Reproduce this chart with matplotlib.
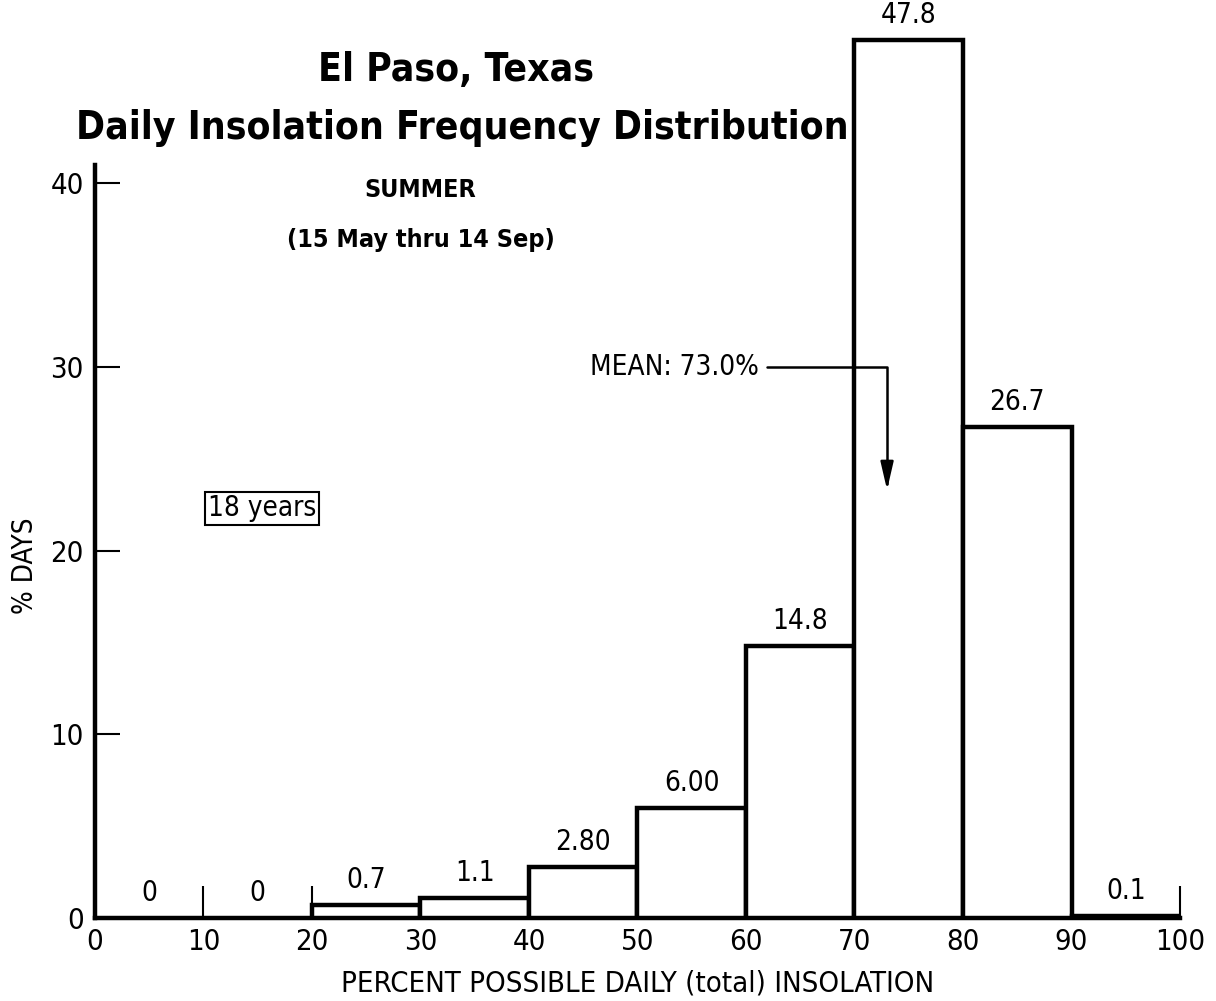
import matplotlib
matplotlib.use("Agg")
import matplotlib.pyplot as plt

# bins of percent possible daily insolation and % of days in each
bin_left = [0, 10, 20, 30, 40, 50, 60, 70, 80, 90]
pct_days = [0, 0, 0.7, 1.1, 2.80, 6.00, 14.8, 47.8, 26.7, 0.1]
bar_labels = ["0", "0", "0.7", "1.1", "2.80", "6.00", "14.8", "47.8", "26.7", "0.1"]
mean_value = 73.0

plt.rcParams["font.family"] = ["DejaVu Sans"]
plt.rcParams["font.stretch"] = "condensed"

fig = plt.figure(figsize=(12.16, 10.01), dpi=100)
ax = fig.add_axes([0.0781, 0.0829, 0.8923, 0.881])

# the histogram bars, drawn as outlines
for x, h in zip(bin_left, pct_days):
    if h > 0:
        ax.bar(x, h, width=10, align="edge", facecolor="white",
               edgecolor="black", linewidth=3.2, zorder=3)

for x, h, lab in zip(bin_left, pct_days, bar_labels):
    ax.text(x + 5, h + 0.6, lab, ha="center", va="bottom", fontsize=20, clip_on=False)

ax.set_xlim(0, 100)
ax.set_ylim(0, 48)
ax.set_xticks(range(0, 101, 10))
ax.set_yticks([0, 10, 20, 30, 40])
ax.tick_params(axis="x", length=0, labelsize=21, pad=7)
ax.tick_params(axis="y", direction="in", length=18, width=1.5, labelsize=21, pad=8)
ax.xaxis.remove_overlapping_locs = False
ax.set_xticks([10, 20, 100], minor=True)
ax.tick_params(axis="x", which="minor", direction="in", length=23, width=1.5)

for s in ["top", "right"]:
    ax.spines[s].set_visible(False)
ax.spines["left"].set_linewidth(3.2)
ax.spines["bottom"].set_linewidth(3.2)
ax.spines["left"].set_bounds(0, 41)
ax.spines["left"].set_zorder(4)

ax.set_xlabel("PERCENT POSSIBLE DAILY (total) INSOLATION", fontsize=21, labelpad=10)
ax.set_ylabel("% DAYS", fontsize=20)
ax.yaxis.set_label_coords(-0.052, 0.40)

# mean marker
ax.annotate(f"MEAN: {mean_value:.1f}%", xy=(mean_value, 23.3), xytext=(61.2, 30),
            ha="right", va="center", fontsize=20,
            arrowprops=dict(arrowstyle="-|>,head_length=1.3,head_width=0.3", color="black",
                            lw=1.8, shrinkA=4, shrinkB=0, mutation_scale=13,
                            connectionstyle="angle,angleA=0,angleB=90,rad=0"),
            zorder=5)

ax.text(15.4, 22.3, "18 years", ha="center", va="center", fontsize=20,
        bbox=dict(boxstyle="square,pad=0.1", facecolor="white", edgecolor="black", lw=1.5))

fig.text(0.375, 0.930, "El Paso, Texas", ha="center", va="center",
         fontsize=28, fontweight="bold")
fig.text(0.380, 0.872, "Daily Insolation Frequency Distribution", ha="center", va="center",
         fontsize=28, fontweight="bold")
fig.text(0.346, 0.810, "SUMMER", ha="center", va="center", fontsize=18, fontweight="bold")
fig.text(0.346, 0.760, "(15 May thru 14 Sep)", ha="center", va="center",
         fontsize=18, fontweight="bold")

fig.savefig("out.png", dpi=100)
